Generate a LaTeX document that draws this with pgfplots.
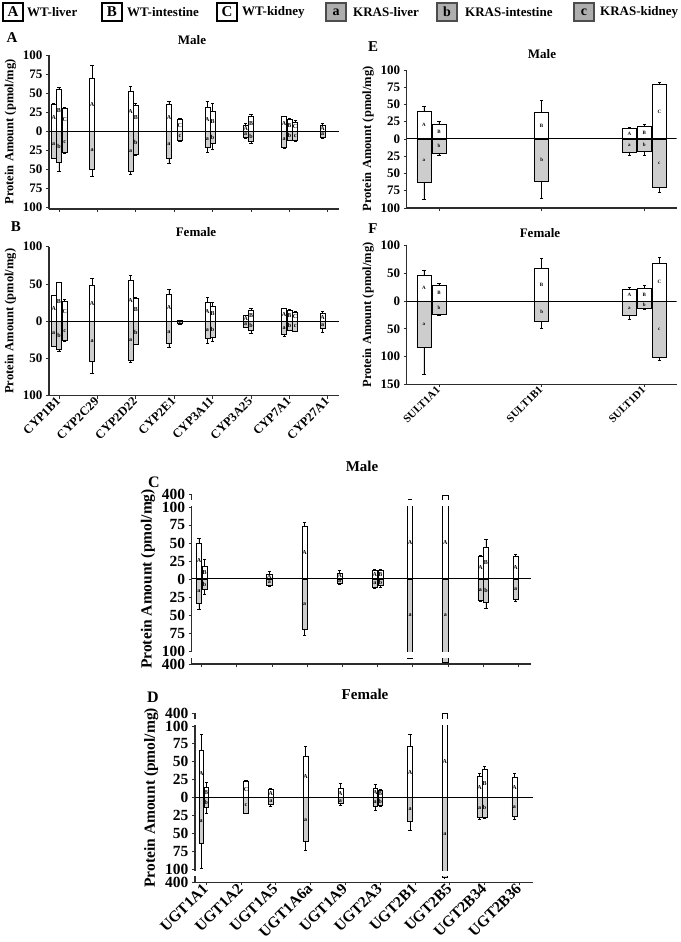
\documentclass[border=0pt]{standalone}
\usepackage{fontspec}
\setmainfont{Liberation Serif}
\usepackage{pgfplots}
\usepackage{pgfplotstable}
\pgfplotsset{compat=1.18}
\definecolor{kgray}{RGB}{205,205,205}
\definecolor{axc}{RGB}{45,45,45}
\newcommand\ff[1]{\fontsize{#1}{#1}\selectfont\bfseries}
\pgfmathdeclarefunction{brk}{1}{\pgfmathparse{min(#1,100)+0.06*max(#1-100,0)}}
\pgfmathdeclarefunction{cap}{1}{\pgfmathparse{min(#1,100)}}
\pgfmathdeclarefunction{id}{1}{\pgfmathparse{#1}}

% x = category index + tissue offset; wt/kr = WT (up) and KRAS (down) amounts; e = error
\pgfplotstableread{
x wt wte kr kre la lb
-0.138 36 1 35 1 A a
0 55 2 41 11 B b
0.148 30 1 27.5 1 C c
0.862 69 18 50 9 A a
1.862 52.4 7 52.4 4.5 A a
2 34.7 1.7 30 2 B b
2.862 35 4.5 35 7 A a
3.148 15.5 1 12 1 C c
3.862 31 8.5 21 7 A a
4 26 11 16.4 8 B b
4.862 8.4 1.6 7.5 1.5 A a
5 20 2 13.3 2.2 B b
5.862 19.5 0.5 21 2 A a
6 15.5 1 12 0.5 B b
6.148 12.4 1.8 12 1 C c
6.862 8.4 1.6 8 1.3 A a
}\tabA
\pgfplotstableread{
x wt wte kr kre la lb
-0.138 34.2 0.5 33.3 0.5 A a
0 52 0.5 38.2 1.8 B b
0.148 26.7 2.3 25.8 0.9 C c
0.862 48 9.3 54.2 15.6 A a
1.862 54.7 7.1 52 2.7 A a
2 31 1 30.7 1 B b
2.862 35.5 7.5 29 6.5 A a
3.148 0.8 0.3 3 1.4 {} c
3.862 25.8 6.6 22.7 7.5 A a
4 20 5.8 21.8 5.2 B b
4.862 7.6 0.8 7.6 0.9 A a
5 14.7 2.6 12.4 4 B b
5.862 17.3 0.3 17.3 2.7 A a
6 14.7 0.8 12 0.4 B b
6.148 11.6 1.3 12.9 0.5 C c
6.862 10.2 2.7 9.3 5.4 A a
}\tabB
\pgfplotstableread{
x wt wte kr kre la lb
-0.146 40 8 62 26 A a
0 22 3.5 20.2 2.8 B b
1 39 16.8 60.6 25.9 B b
1.854 15.9 1.4 18.75 4.3 A a
2 18.75 2.9 17.8 5.2 B b
2.146 79.3 2.4 69.7 8.2 C c
}\tabE
\pgfplotstableread{
x wt wte kr kre la lb
-0.146 47 8.4 83 49.5 A a
0 28.3 3.7 23.5 1.8 B b
1 59 18.7 36.7 12.7 B b
1.854 21 3.7 24.7 8.3 A a
2 24 5 12.7 2.3 B b
2.146 68 10.3 101.8 4.2 C c
}\tabF
\pgfplotstableread{
x wt wte kr kre la lb
-0.077 50 7 33.3 9.3 A a
0.08 18 9.8 13.9 7.9 B b
1.923 7 4 9.3 0.7 A a
2.923 73.6 5.1 70 7.8 A a
3.923 8.3 3.7 6 1 A a
4.923 12.5 1.4 11 2.4 A a
5.08 11.6 1.4 9.3 1.7 B b
5.923 265 3 268 3 A a
6.923 360 20 350 15 A a
7.923 31.5 1 29.6 1.4 A a
8.08 44.4 10.2 32.4 7.9 B b
8.923 31.5 2.8 28.7 2.3 A a
}\tabC
\pgfplotstableread{
x wt wte kr kre la lb
-0.144 66.7 22.2 63.9 34.7 A a
0 15.3 6.5 13.9 8.3 B b
1.144 22.7 0.9 21.3 0.9 C c
1.856 11.6 1.4 9.7 2.3 A a
2.856 58.3 13 61.1 12 A a
3.856 13 6.9 8.3 2.3 A a
4.856 13.9 4.6 12 5.6 A a
5 11.1 0.3 10.6 1 B b
5.856 71.3 17.6 32.9 12.5 A a
6.856 390 8 285 6 A a
7.856 29.6 4.7 27.8 2.8 A a
8 40.3 3.2 27.8 0.9 B b
8.856 28.7 5.6 25.9 4.7 A a
}\tabD

% #1 table, #2 bar width, #3 y transform, #4 label transform, #5 letter size
\newcommand\bars[5]{%
\addplot[ybar, bar shift=0pt, bar width=#2, fill=white, draw=black, line width=0.5pt,
  error bars/.cd, y dir=plus, y explicit, error bar style={line width=0.7pt, black},
  error mark options={rotate=90, mark size=1.6pt, line width=0.7pt, black}]
  table[x=x, y expr={#3(\thisrow{wt})}, y error expr={#3(\thisrow{wt}+\thisrow{wte})-#3(\thisrow{wt})}] {#1};
\addplot[ybar, bar shift=0pt, bar width=#2, fill=kgray, draw=black, line width=0.5pt,
  error bars/.cd, y dir=minus, y explicit, error bar style={line width=0.7pt, black},
  error mark options={rotate=90, mark size=1.6pt, line width=0.7pt, black}]
  table[x=x, y expr={-#3(\thisrow{kr})}, y error expr={#3(\thisrow{kr}+\thisrow{kre})-#3(\thisrow{kr})}] {#1};
\addplot[draw=none, nodes near coords, point meta=explicit symbolic,
  every node near coord/.append style={anchor=center, inner sep=0pt, font=\ff{#5}}]
  table[x=x, y expr={#4(\thisrow{wt})/2}, meta=la] {#1};
\addplot[draw=none, nodes near coords, point meta=explicit symbolic,
  every node near coord/.append style={anchor=center, inner sep=0pt, font=\ff{#5}}]
  table[x=x, y expr={-#4(\thisrow{kr})/2}, meta=lb] {#1};
\draw[line width=1pt, black] (axis cs:\pgfkeysvalueof{/pgfplots/xmin},0) -- (axis cs:\pgfkeysvalueof{/pgfplots/xmax},0);
}

\pgfplotsset{
  pan/.style={scale only axis, anchor=south west, axis x line*=bottom, axis y line*=left,
    axis line style={-, line width=1.1pt, axc}, x axis line style={-}, y axis line style={-},
    every tick/.style={axc, line width=0.8pt}, major tick length=3pt, tick align=outside,
    minor tick num=0, enlargelimits=false,
    ylabel={Protein Amount (pmol/mg)}},
}

\begin{document}
\begin{tikzpicture}
\useasboundingbox (0pt,0pt) rectangle (680pt,942pt);

% legend
\foreach \cx/\tx/\L/\T in {13/27/A/WT-liver, 112/127/B/WT-intestine, 227/242/C/WT-kidney}{
  \node[draw=black, line width=1.5pt, fill=white, minimum width=20pt, minimum height=18pt, inner sep=0pt, font=\ff{15}] at (\cx pt,930pt) {\L};
  \node[anchor=west, font=\ff{13}, inner sep=0pt] at (\tx pt,930pt) {\T};
}
\foreach \cx/\tx/\L/\T in {336/353/a/KRAS-liver, 447/465/b/KRAS-intestine, 584/600/c/KRAS-kidney}{
  \node[draw=black!70, line width=1.5pt, fill=kgray!85!black, minimum width=20pt, minimum height=18pt, inner sep=0pt, font=\ff{14}] at (\cx pt,930pt) {\L};
  \node[anchor=west, font=\ff{13}, inner sep=0pt] at (\tx pt,930pt) {\T};
}

% panel A
\node[font=\ff{15}] at (12pt,904pt) {A};
\node[font=\ff{13}] at (192pt,902pt) {Male};
\begin{axis}[pan, at={(49pt,733pt)}, width=290pt, height=154pt,
  xmin=-0.26, xmax=7.29, ymin=-102, ymax=100,
  xtick={0,...,7}, xticklabels={,,,,,,,,},
  ytick={-100,-75,-50,-25,0,25,50,75,100}, yticklabels={100,75,50,25,0,25,50,75,100},
  yticklabel style={font=\ff{13}}, ylabel style={font=\ff{12.5}}]
\bars{\tabA}{0.13}{id}{id}{6}
\end{axis}

% panel B
\node[font=\ff{15}] at (16pt,715pt) {B};
\node[font=\ff{13}] at (196pt,710pt) {Female};
\begin{axis}[pan, at={(49pt,546.3pt)}, width=290pt, height=149pt,
  xmin=-0.26, xmax=7.29, ymin=-100, ymax=100,
  xtick={0,...,7}, xticklabels={CYP1B1,CYP2C29,CYP2D22,CYP2E1,CYP3A11,CYP3A25,CYP7A1,CYP27A1},
  xticklabel style={rotate=45, anchor=east, font=\ff{12.5}, inner sep=1pt},
  ytick={-100,-50,0,50,100}, yticklabels={100,50,0,50,100},
  yticklabel style={font=\ff{13}}, ylabel style={font=\ff{12.5}}]
\bars{\tabB}{0.13}{id}{id}{6}
\end{axis}

% panel E
\node[font=\ff{15}] at (373pt,895pt) {E};
\node[font=\ff{13}] at (542pt,888pt) {Male};
\begin{axis}[pan, at={(406.7pt,734pt)}, width=270pt, height=138pt,
  xmin=-0.314, xmax=2.315, ymin=-100, ymax=100,
  xtick={0,1,2}, xticklabels={,,,},
  ytick={-100,-75,-50,-25,0,25,50,75,100}, yticklabels={100,75,50,25,0,25,50,75,100},
  yticklabel style={font=\ff{13}}, ylabel style={font=\ff{12.5}}]
\bars{\tabE}{0.136}{id}{id}{5}
\end{axis}

% panel F
\node[font=\ff{15}] at (373pt,713pt) {F};
\node[font=\ff{13}] at (540pt,709pt) {Female};
\begin{axis}[pan, at={(406.7pt,557.7pt)}, width=270pt, height=138.6pt,
  xmin=-0.314, xmax=2.315, ymin=-150, ymax=100,
  xtick={0,1,2}, xticklabels={SULT1A1,SULT1B1,SULT1D1},
  xticklabel style={rotate=45, anchor=east, font=\ff{11}, inner sep=1pt},
  ytick={-150,-100,-50,0,50,100}, yticklabels={150,100,50,0,50,100},
  yticklabel style={font=\ff{13}}, ylabel style={font=\ff{12.5}}]
\bars{\tabF}{0.136}{id}{id}{5}
\end{axis}

% panel C
\node[font=\ff{16}] at (154pt,460pt) {C};
\node[font=\ff{15}] at (362pt,476pt) {Male};
\begin{axis}[pan, at={(191.7pt,278pt)}, width=339.3pt, height=170pt, clip=false,
  xmin=-0.284, xmax=9.36, ymin=-118, ymax=118,
  xtick={0,...,9}, xticklabels={,,,,,,,,,,},
  ytick={-118,-100,-75,-50,-25,0,25,50,75,100,118}, yticklabels={400,100,75,50,25,0,25,50,75,100,400},
  yticklabel style={font=\ff{15.5}}, ylabel style={font=\ff{15.5}}]
\bars{\tabC}{0.15}{brk}{cap}{6}
\fill[white] (axis cs:-0.31,101.3) rectangle (axis cs:9.36,109);
\fill[white] (axis cs:-0.31,-101.3) rectangle (axis cs:9.36,-109);
\end{axis}

% panel D
\node[font=\ff{16}] at (153pt,245pt) {D};
\node[font=\ff{15}] at (365pt,248pt) {Female};
\begin{axis}[pan, at={(195pt,59.5pt)}, width=338pt, height=169.5pt, clip=false,
  xmin=-0.322, xmax=9.39, ymin=-118, ymax=118,
  xtick={0,...,9}, xticklabels={UGT1A1,UGT1A2,UGT1A5,UGT1A6a,UGT1A9,UGT2A3,UGT2B1,UGT2B5,UGT2B34,UGT2B36},
  xticklabel style={rotate=45, anchor=east, font=\ff{15.5}, inner sep=1pt},
  ytick={-118,-100,-75,-50,-25,0,25,50,75,100,118}, yticklabels={400,100,75,50,25,0,25,50,75,100,400},
  yticklabel style={font=\ff{15.5}}, ylabel style={font=\ff{15.5}}]
\bars{\tabD}{0.14}{brk}{cap}{6}
\fill[white] (axis cs:-0.34,101.3) rectangle (axis cs:9.39,109);
\fill[white] (axis cs:-0.34,-101.3) rectangle (axis cs:9.39,-109);
\end{axis}
\end{tikzpicture}
\end{document}
